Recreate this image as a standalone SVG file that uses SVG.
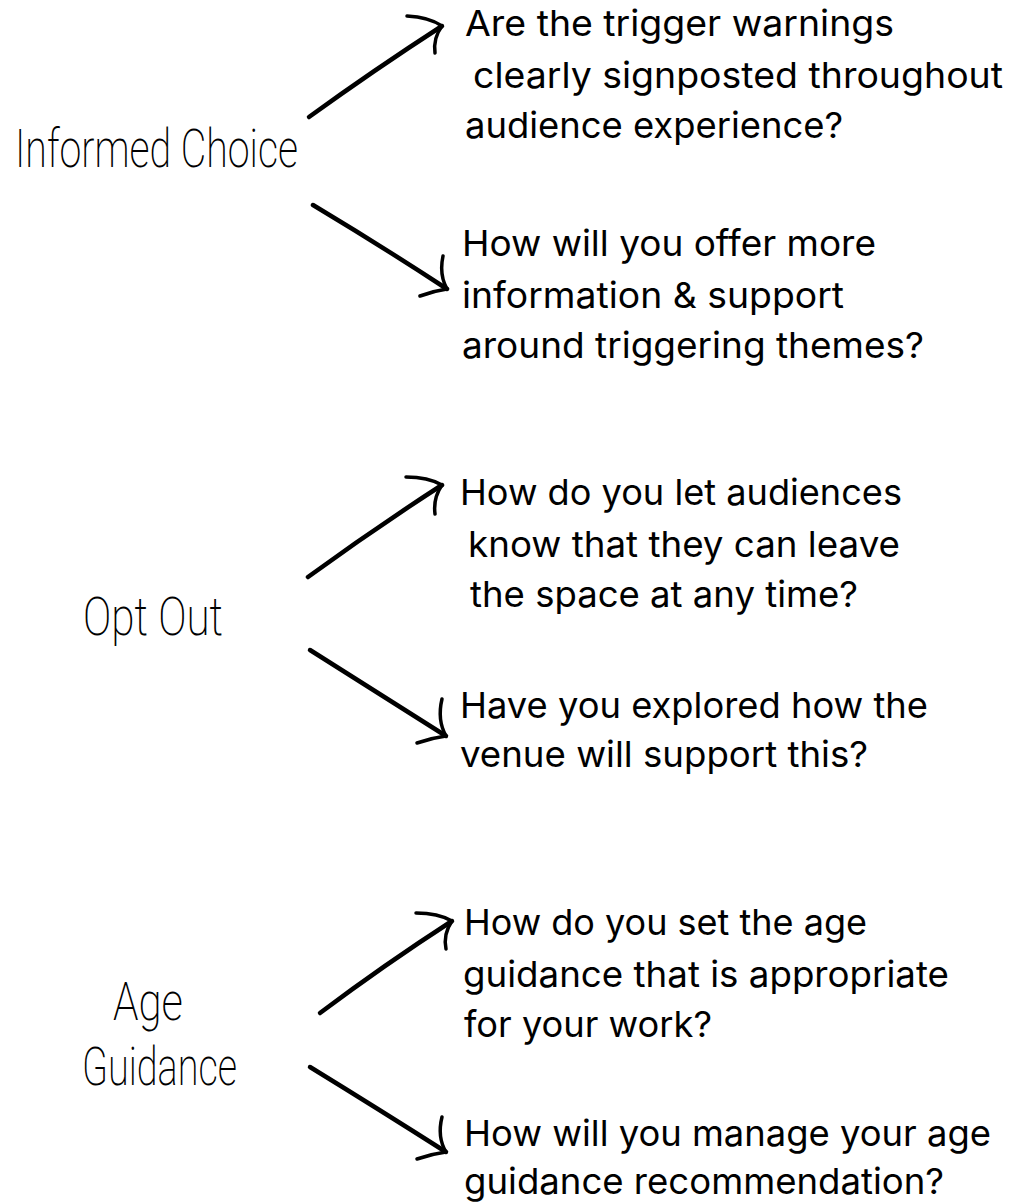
<svg xmlns="http://www.w3.org/2000/svg" width="1011" height="1203" viewBox="0 0 1011 1203">
<style>
.hand{font-family:Roboto,"DejaVu Sans",sans-serif;font-weight:200;font-size:53px;fill:#000}
.q{font-family:Inter,"Open Sans","Liberation Sans",sans-serif;font-size:36px;fill:#000}
.shaft{fill:none;stroke:#000;stroke-width:4.5;stroke-linecap:round;stroke-linejoin:round}
.barb{fill:none;stroke:#000;stroke-width:3.5;stroke-linecap:round;stroke-linejoin:round}
</style>
<rect width="1011" height="1203" fill="#fff"/>
<g id="informed-choice">
<text class="hand" x="15" y="167" textLength="283" lengthAdjust="spacingAndGlyphs">Informed Choice</text>
</g>
<g id="opt-out">
<text class="hand" x="83" y="635" textLength="140" lengthAdjust="spacingAndGlyphs">Opt Out</text>
</g>
<g id="age-guidance">
<text class="hand" x="113" y="1020" textLength="70" lengthAdjust="spacingAndGlyphs">Age</text>
<text class="hand" x="82" y="1085" textLength="155" lengthAdjust="spacingAndGlyphs">Guidance</text>
</g>
<g id="q-trigger-warnings">
<text class="q" x="465" y="36" textLength="429" lengthAdjust="spacingAndGlyphs">Are the trigger warnings</text>
<text class="q" x="473" y="88" textLength="530" lengthAdjust="spacingAndGlyphs">clearly signposted throughout</text>
<text class="q" x="465" y="138" textLength="378" lengthAdjust="spacingAndGlyphs">audience experience?</text>
</g>
<g id="q-more-info">
<text class="q" x="462" y="256" textLength="414" lengthAdjust="spacingAndGlyphs">How will you offer more</text>
<text class="q" x="462" y="308" textLength="382" lengthAdjust="spacingAndGlyphs">information &amp; support</text>
<text class="q" x="462" y="358" textLength="462" lengthAdjust="spacingAndGlyphs">around triggering themes?</text>
</g>
<g id="q-leave-space">
<text class="q" x="460" y="505" textLength="442" lengthAdjust="spacingAndGlyphs">How do you let audiences</text>
<text class="q" x="468" y="557" textLength="432" lengthAdjust="spacingAndGlyphs">know that they can leave</text>
<text class="q" x="470" y="607" textLength="388" lengthAdjust="spacingAndGlyphs">the space at any time?</text>
</g>
<g id="q-venue">
<text class="q" x="460" y="718" textLength="468" lengthAdjust="spacingAndGlyphs">Have you explored how the</text>
<text class="q" x="460" y="767" textLength="408" lengthAdjust="spacingAndGlyphs">venue will support this?</text>
</g>
<g id="q-set-age">
<text class="q" x="464" y="935" textLength="403" lengthAdjust="spacingAndGlyphs">How do you set the age</text>
<text class="q" x="463" y="987" textLength="486" lengthAdjust="spacingAndGlyphs">guidance that is appropriate</text>
<text class="q" x="464" y="1037" textLength="248" lengthAdjust="spacingAndGlyphs">for your work?</text>
</g>
<g id="q-manage-age">
<text class="q" x="464" y="1146" textLength="527" lengthAdjust="spacingAndGlyphs">How will you manage your age</text>
<text class="q" x="464" y="1194" textLength="480" lengthAdjust="spacingAndGlyphs">guidance recommendation?</text>
</g>
<g id="connectors">
<path class="shaft" d="M309,117 Q374,70 442,26"/>
<path class="barb" d="M407,16 Q429,17 442,26 Q433,38 435,53"/>
<path class="shaft" d="M313,205 Q383,247 447,289"/>
<path class="barb" d="M443,256 Q439,275 447,289 Q433,291 420,296"/>
<path class="shaft" d="M308,577 Q374,529 442,485"/>
<path class="barb" d="M406,477 Q428,477 442,485 Q433,498 435,514"/>
<path class="shaft" d="M310,650 Q380,694 446,736"/>
<path class="barb" d="M442,699 Q437,720 446,736 Q431,738 417,743"/>
<path class="shaft" d="M320,1013 Q384,965 452,921"/>
<path class="barb" d="M416,913 Q438,913 452,921 Q443,934 446,949"/>
<path class="shaft" d="M310,1067 Q380,1110 446,1152"/>
<path class="barb" d="M442,1117 Q437,1137 446,1152 Q431,1154 417,1159"/>
</g>
</svg>
